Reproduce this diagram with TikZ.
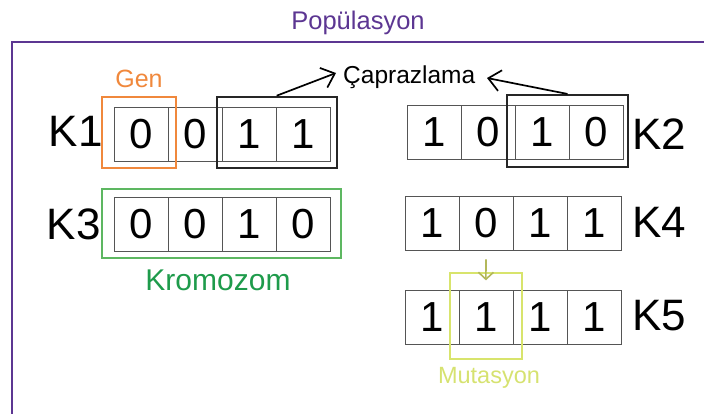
\documentclass[tikz,border=0pt]{standalone}
\usepackage{fontspec}
\setmainfont{Liberation Sans}
\usetikzlibrary{arrows.meta}
\definecolor{purp}{HTML}{5C3692}
\definecolor{genc}{HTML}{F0883C}
\definecolor{kbox}{HTML}{5DB761}
\definecolor{ktext}{HTML}{1E9B4B}
\definecolor{mboxc}{HTML}{D8E46C}
\definecolor{mtext}{HTML}{D6E270}
\definecolor{marrow}{HTML}{B3B85A}
\definecolor{cellline}{HTML}{555555}
\begin{document}
\begin{tikzpicture}[x=1pt,y=-1pt,
 cell/.style={draw=cellline, line width=0.8pt, minimum width=54pt, minimum height=54pt, inner sep=0pt, font=\fontsize{42}{44}\selectfont},
 klabel/.style={inner sep=0pt, font=\fontsize{44}{46}\selectfont},
 hbox/.style={draw, line width=2pt, inner sep=0pt},
 arr/.style={line width=1.7pt, -{Straight Barb[length=12pt,width=21pt]}},
 ]
\useasboundingbox (0,0) rectangle (704,414);
\begin{scope}
\clip (0,0) rectangle (704,414);
\draw[purp, line width=2.8pt] (12,42) rectangle (720,430);
\end{scope}
% title
\node[inner sep=0pt, anchor=base, text=purp, font=\fontsize{25.5}{28}\selectfont] (title) at (358,30) {Popülasyon};
% cells
\foreach \b [count=\i] in {0,0,1,1} \node[cell] (k1-\i) at (141+54*\i-54,134) {\b};
\foreach \b [count=\i] in {0,0,1,0} \node[cell] (k3-\i) at (141+54*\i-54,224) {\b};
\foreach \b [count=\i] in {1,0,1,0} \node[cell] (k2-\i) at (434+54*\i-54,132.5) {\b};
\foreach \b [count=\i] in {1,0,1,1} \node[cell] (k4-\i) at (432+54*\i-54,223) {\b};
\foreach \b [count=\i] in {1,1,1,1} \node[cell] (k5-\i) at (432+54*\i-54,317) {\b};
% labels
\node[klabel, anchor=base east] (K1) at (103,147) {K1};
\node[klabel, anchor=base east] (K3) at (101,240) {K3};
\node[klabel, anchor=base west] (K2) at (632,150) {K2};
\node[klabel, anchor=base west] (K4) at (632,237) {K4};
\node[klabel, anchor=base west] (K5) at (632,330) {K5};
% highlight boxes
\node[hbox, draw=genc, minimum width=73.7pt, minimum height=71pt] (genbox) at (139.2,132.2) {};
\node[hbox, draw=black!85, minimum width=120pt, minimum height=71.6pt] (cx1) at (276.7,132.5) {};
\node[hbox, draw=black!85, minimum width=121.6pt, minimum height=71.7pt] (cx2) at (567.5,130.8) {};
\node[hbox, draw=kbox, minimum width=239pt, minimum height=69pt] (kbox) at (221.2,223.5) {};
\node[hbox, draw=mboxc, minimum width=71.7pt, minimum height=85.7pt] (mbox) at (485.9,316.2) {};
% texts
\node[inner sep=0pt, anchor=base, text=genc, font=\fontsize{25}{28}\selectfont] (gen) at (139,88) {Gen};
\node[inner sep=0pt, anchor=base west, font=\fontsize{24.5}{28}\selectfont] (cap) at (343,84) {Çaprazlama};
\node[inner sep=0pt, anchor=base, text=ktext, font=\fontsize{30}{32}\selectfont] (krom) at (218,290) {Kromozom};
\node[inner sep=0pt, anchor=base, text=mtext, font=\fontsize{23.5}{26}\selectfont] (mut) at (489,383) {Mutasyon};
% arrows
\coordinate (capL) at (336,73);
\coordinate (capR) at (487,78);
\draw[arr] (cx1.north) -- (capL);
\draw[arr] (cx2.north) -- (capR);
\draw[marrow, line width=1.6pt, -{Straight Barb[length=7pt,width=15pt]}] ([yshift=-9pt]k4-2.south) -- ([yshift=-8pt]mbox.north);
\end{tikzpicture}
\end{document}
